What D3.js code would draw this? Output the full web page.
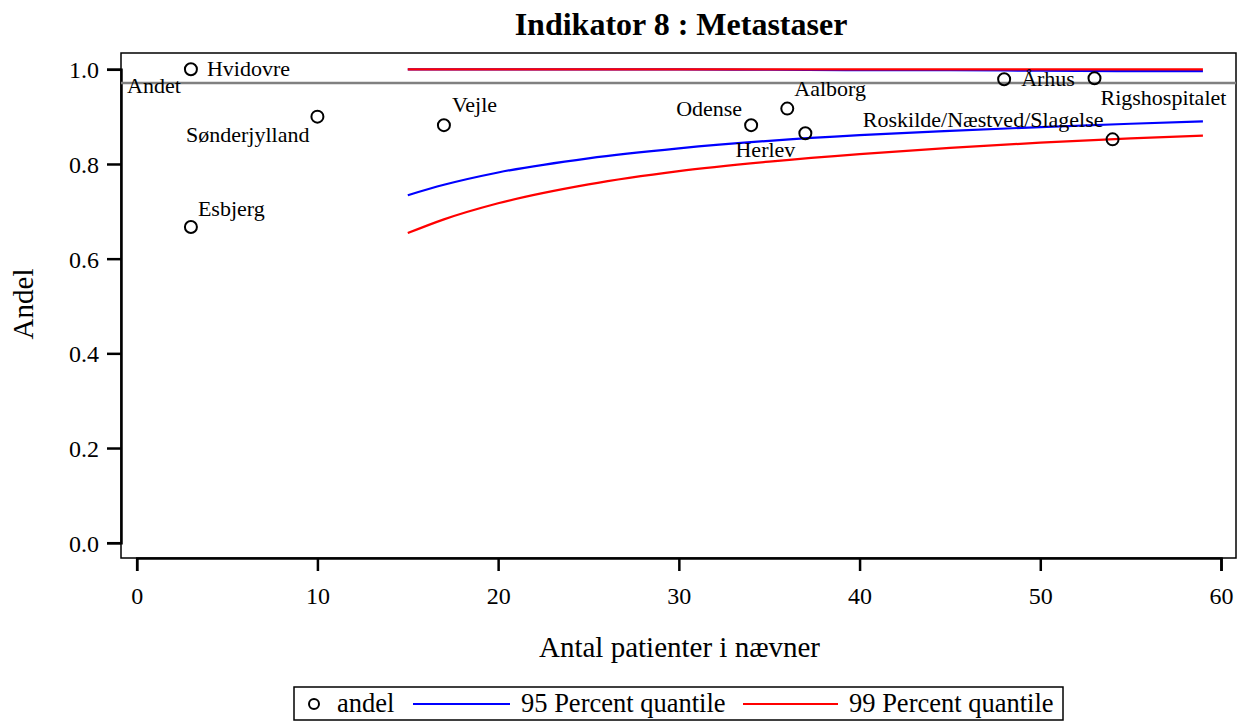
<!DOCTYPE html>
<html>
<head>
<meta charset="utf-8">
<script src="https://cdn.jsdelivr.net/npm/d3@7"></script>
<style>
  html, body { margin: 0; padding: 0; background: #fff; }
  svg { display: block; font-family: "Liberation Serif", "Times New Roman", serif; }
</style>
</head>
<body>
<svg id="chart" width="1243" height="722"></svg>
<script>
// Hospital units: number of patients in the denominator and share fulfilling the indicator
const units = ["Hvidovre", "Esbjerg", "Sønderjylland", "Vejle", "Odense", "Aalborg",
               "Herlev", "Århus", "Rigshospitalet", "Roskilde/Næstved/Slagelse"];
const patients = [3, 3, 10, 17, 34, 36, 37, 48, 53, 54];
const andel = [1.0, 0.667, 0.9, 0.882, 0.882, 0.917, 0.865, 0.979, 0.981, 0.852];

// National reference level
const refLabel = "Andet";
const refValue = 0.971;

// Funnel limits by denominator size
const limitN =      [15, 17, 20, 25, 30, 35, 40, 45, 50, 55, 59];
const lower95 =     [0.734, 0.756, 0.782, 0.812, 0.833, 0.849, 0.861, 0.870, 0.878, 0.885, 0.890];
const upper95 =     [1.0, 1.0, 1.0, 1.0, 1.0, 0.999, 0.998, 0.998, 0.997, 0.996, 0.996];
const lower99 =     [0.654, 0.683, 0.717, 0.757, 0.785, 0.805, 0.821, 0.834, 0.845, 0.854, 0.860];
const upper99 =     [1.0, 1.0, 1.0, 1.0, 1.0, 1.0, 1.0, 1.0, 1.0, 1.0, 1.0];

const xTicks = [0, 10, 20, 30, 40, 50, 60];
const yTicks = [0.0, 0.2, 0.4, 0.6, 0.8, 1.0];

const titleText = "Indikator 8 : Metastaser";
const xLabel = "Antal patienter i nævner";
const yLabel = "Andel";
const legendLabels = ["andel", "95 Percent quantile", "99 Percent quantile"];

// ---- layout ----
const frame = { left: 121, right: 1236, top: 53, bottom: 558 };
const x = d3.scaleLinear().domain([0, 60]).range([136.7, 1221]);
const y = d3.scaleLinear().domain([0, 1]).range([542.7, 69.3]);

const svg = d3.select("#chart");

// Title
svg.append("text")
  .attr("x", 681).attr("y", 35)
  .attr("text-anchor", "middle")
  .attr("font-size", 32).attr("font-weight", "bold")
  .text(titleText);

// Plot frame
svg.append("rect")
  .attr("x", frame.left).attr("y", frame.top)
  .attr("width", frame.right - frame.left).attr("height", frame.bottom - frame.top)
  .attr("fill", "none").attr("stroke", "#000").attr("stroke-width", 1.5);

// Axes
const xAxis = svg.append("g")
  .attr("transform", `translate(0,${frame.bottom})`)
  .call(d3.axisBottom(x).tickValues(xTicks).tickSize(13).tickPadding(16).tickFormat(d3.format("d")));
const yAxis = svg.append("g")
  .attr("transform", `translate(${frame.left},0)`)
  .call(d3.axisLeft(y).tickValues(yTicks).tickSize(14).tickPadding(8).tickFormat(d3.format(".1f")));
[xAxis, yAxis].forEach(g => {
  g.select(".domain").attr("stroke", "#000").attr("stroke-width", 2.5);
  g.selectAll(".tick line").attr("stroke", "#000").attr("stroke-width", 2.5);
  g.selectAll(".tick text").attr("fill", "#000").attr("font-size", 24)
    .attr("font-family", "Liberation Serif, Times New Roman, serif");
});
yAxis.selectAll(".tick text").attr("dy", "0.36em");

// Axis titles
svg.append("text")
  .attr("x", 679.5).attr("y", 657)
  .attr("text-anchor", "middle").attr("font-size", 29)
  .text(xLabel);
svg.append("text")
  .attr("transform", "translate(33,304) rotate(-90)")
  .attr("text-anchor", "middle").attr("font-size", 29)
  .text(yLabel);

// Reference line
svg.append("line")
  .attr("x1", frame.left).attr("x2", frame.right)
  .attr("y1", y(refValue)).attr("y2", y(refValue))
  .attr("stroke", "#808080").attr("stroke-width", 2.5);
svg.append("text")
  .attr("x", frame.left + 6).attr("y", y(refValue) + 10)
  .attr("font-size", 22).text(refLabel);

// Funnel limit curves
const line = d3.line().x(d => x(d[0])).y(d => y(d[1])).curve(d3.curveMonotoneX);
const curves = [
  { vals: upper95, color: "#0000ff" },
  { vals: lower95, color: "#0000ff" },
  { vals: upper99, color: "#ff0000" },
  { vals: lower99, color: "#ff0000" }
];
curves.forEach(c => {
  svg.append("path")
    .datum(limitN.map((n, i) => [n, c.vals[i]]))
    .attr("d", line)
    .attr("fill", "none").attr("stroke", c.color).attr("stroke-width", 2.2);
});

// Observed shares
const pts = units.map((u, i) => ({ name: u, n: patients[i], v: andel[i] }));
svg.selectAll("circle.obs").data(pts).join("circle")
  .attr("class", "obs")
  .attr("cx", d => x(d.n)).attr("cy", d => y(d.v))
  .attr("r", 6)
  .attr("fill", "none").attr("stroke", "#000").attr("stroke-width", 2);

// Point labels, placed around each marker
const placement = {
  "Hvidovre":                  { dx: 16,  dy: 7,   anchor: "start" },
  "Esbjerg":                   { dx: 7,   dy: -11, anchor: "start" },
  "Sønderjylland":             { dx: -8,  dy: 25,  anchor: "end" },
  "Vejle":                     { dx: 8,   dy: -13, anchor: "start" },
  "Odense":                    { dx: -9,  dy: -9,  anchor: "end" },
  "Aalborg":                   { dx: 7,   dy: -13, anchor: "start" },
  "Herlev":                    { dx: -10, dy: 24,  anchor: "end" },
  "Århus":                     { dx: 17,  dy: 7,   anchor: "start" },
  "Rigshospitalet":            { dx: 6,   dy: 27,  anchor: "start" },
  "Roskilde/Næstved/Slagelse": { dx: -9,  dy: -12, anchor: "end" }
};
svg.selectAll("text.lbl").data(pts).join("text")
  .attr("class", "lbl")
  .attr("x", d => x(d.n) + placement[d.name].dx)
  .attr("y", d => y(d.v) + placement[d.name].dy)
  .attr("text-anchor", d => placement[d.name].anchor)
  .attr("font-size", 22)
  .text(d => d.name);

// Legend
const lg = svg.append("g");
lg.append("rect")
  .attr("x", 294).attr("y", 687).attr("width", 769).attr("height", 33)
  .attr("fill", "none").attr("stroke", "#000").attr("stroke-width", 1.5);
const ly = 704;
lg.append("circle").attr("cx", 314).attr("cy", ly).attr("r", 5)
  .attr("fill", "none").attr("stroke", "#000").attr("stroke-width", 2);
lg.append("text").attr("x", 337).attr("y", ly + 8).attr("font-size", 26.5).text(legendLabels[0]);
lg.append("line").attr("x1", 413).attr("x2", 510).attr("y1", ly).attr("y2", ly)
  .attr("stroke", "#0000ff").attr("stroke-width", 2.2);
lg.append("text").attr("x", 521).attr("y", ly + 8).attr("font-size", 26.5).text(legendLabels[1]);
lg.append("line").attr("x1", 743).attr("x2", 838).attr("y1", ly).attr("y2", ly)
  .attr("stroke", "#ff0000").attr("stroke-width", 2.2);
lg.append("text").attr("x", 849).attr("y", ly + 8).attr("font-size", 26.5).text(legendLabels[2]);
</script>
</body>
</html>
